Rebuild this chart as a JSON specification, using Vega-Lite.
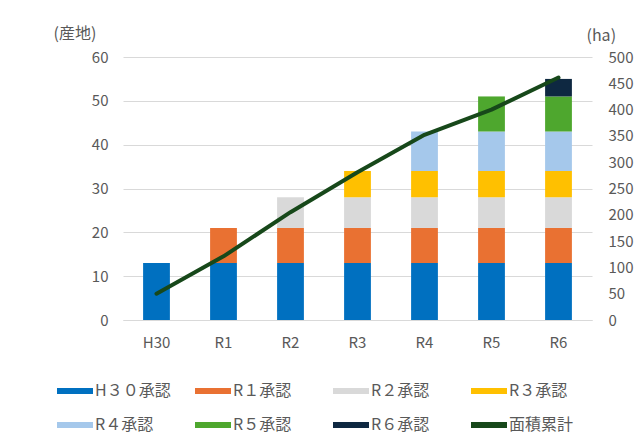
{
  "$schema": "https://vega.github.io/schema/vega-lite/v6.json",
  "width": 469,
  "height": 263,
  "autosize": "none",
  "padding": {"left": 123, "top": 57, "right": 46, "bottom": 123},
  "background": "white",
  "config": {
    "font": "Noto Sans CJK JP",
    "view": {"stroke": null},
    "axis": {"labelColor": "#595959", "labelFontSize": 15, "titleColor": "#595959", "titleFontWeight": "normal", "titleFontSize": 16}
  },
  "datasets": {
    "bars": [
      {"cat": "H30", "series": "H３０承認", "value": 13},
      {"cat": "R1", "series": "H３０承認", "value": 13},
      {"cat": "R1", "series": "R１承認", "value": 8},
      {"cat": "R2", "series": "H３０承認", "value": 13},
      {"cat": "R2", "series": "R１承認", "value": 8},
      {"cat": "R2", "series": "R２承認", "value": 7},
      {"cat": "R3", "series": "H３０承認", "value": 13},
      {"cat": "R3", "series": "R１承認", "value": 8},
      {"cat": "R3", "series": "R２承認", "value": 7},
      {"cat": "R3", "series": "R３承認", "value": 6},
      {"cat": "R4", "series": "H３０承認", "value": 13},
      {"cat": "R4", "series": "R１承認", "value": 8},
      {"cat": "R4", "series": "R２承認", "value": 7},
      {"cat": "R4", "series": "R３承認", "value": 6},
      {"cat": "R4", "series": "R４承認", "value": 9},
      {"cat": "R5", "series": "H３０承認", "value": 13},
      {"cat": "R5", "series": "R１承認", "value": 8},
      {"cat": "R5", "series": "R２承認", "value": 7},
      {"cat": "R5", "series": "R３承認", "value": 6},
      {"cat": "R5", "series": "R４承認", "value": 9},
      {"cat": "R5", "series": "R５承認", "value": 8},
      {"cat": "R6", "series": "H３０承認", "value": 13},
      {"cat": "R6", "series": "R１承認", "value": 8},
      {"cat": "R6", "series": "R２承認", "value": 7},
      {"cat": "R6", "series": "R３承認", "value": 6},
      {"cat": "R6", "series": "R４承認", "value": 9},
      {"cat": "R6", "series": "R５承認", "value": 8},
      {"cat": "R6", "series": "R６承認", "value": 4}
    ],
    "area": [
      {"cat": "H30", "ha": 50},
      {"cat": "R1", "ha": 121},
      {"cat": "R2", "ha": 205},
      {"cat": "R3", "ha": 281},
      {"cat": "R4", "ha": 352},
      {"cat": "R5", "ha": 400},
      {"cat": "R6", "ha": 461}
    ]
  },
  "encoding": {
    "x": {
      "field": "cat",
      "type": "nominal",
      "sort": ["H30", "R1", "R2", "R3", "R4", "R5", "R6"],
      "scale": {"paddingInner": 0.6, "paddingOuter": 0.3},
      "axis": {"title": null, "labelAngle": 0, "domain": true, "domainColor": "#D9D9D9", "domainWidth": 1, "ticks": false, "labelPadding": 15}
    }
  },
  "layer": [
    {
      "data": {"name": "bars"},
      "mark": {"type": "bar"},
      "encoding": {
        "y": {
          "field": "value",
          "type": "quantitative",
          "aggregate": "sum",
          "stack": "zero",
          "scale": {"domain": [0, 60], "nice": false},
          "axis": {
            "values": [0, 10, 20, 30, 40, 50, 60],
            "title": "(産地)",
            "titleAngle": 0,
            "titleAlign": "left",
            "titleBaseline": "middle",
            "titleX": -70,
            "titleY": -24,
            "grid": true,
            "gridColor": "#D9D9D9",
            "gridWidth": 1,
            "domain": false,
            "ticks": false,
            "labelPadding": 15
          }
        },
        "order": {"field": "series", "sort": "ascending"},
        "color": {
          "field": "series",
          "type": "nominal",
          "sort": ["H３０承認", "R１承認", "R２承認", "R３承認", "R４承認", "R５承認", "R６承認", "面積累計"],
          "scale": {
            "domain": ["H３０承認", "R１承認", "R２承認", "R３承認", "R４承認", "R５承認", "R６承認", "面積累計"],
            "range": ["#0070C0", "#E97132", "#D9D9D9", "#FFC000", "#A5C8EB", "#4EA72E", "#0E2841", "#17481A"]
          },
          "legend": {
            "title": null,
            "orient": "none",
            "direction": "horizontal",
            "columns": 4,
            "legendX": -63,
            "legendY": 319,
            "padding": 0,
            "gridAlign": "all",
            "columnPadding": 24,
            "rowPadding": 11,
            "symbolType": "M-1.2,-0.2H1.2V0.2H-1.2Z",
            "symbolSize": 900,
            "symbolStrokeWidth": 0,
            "labelOffset": 5,
            "labelFontSize": 16,
            "labelColor": "#595959",
            "labelLimit": 200
          }
        }
      }
    },
    {
      "data": {"name": "area"},
      "mark": {"type": "line", "strokeWidth": 4, "strokeCap": "round", "strokeJoin": "round"},
      "encoding": {
        "y": {
          "field": "ha",
          "type": "quantitative",
          "scale": {"domain": [0, 500], "nice": false},
          "axis": {
            "orient": "right",
            "values": [0, 50, 100, 150, 200, 250, 300, 350, 400, 450, 500],
            "title": "(ha)",
            "titleAngle": 0,
            "titleAlign": "left",
            "titleBaseline": "middle",
            "titleX": -6,
            "titleY": -22,
            "grid": false,
            "domain": false,
            "ticks": false,
            "labelPadding": 16
          }
        },
        "color": {"datum": "面積累計"}
      }
    }
  ],
  "resolve": {"scale": {"y": "independent"}}
}
